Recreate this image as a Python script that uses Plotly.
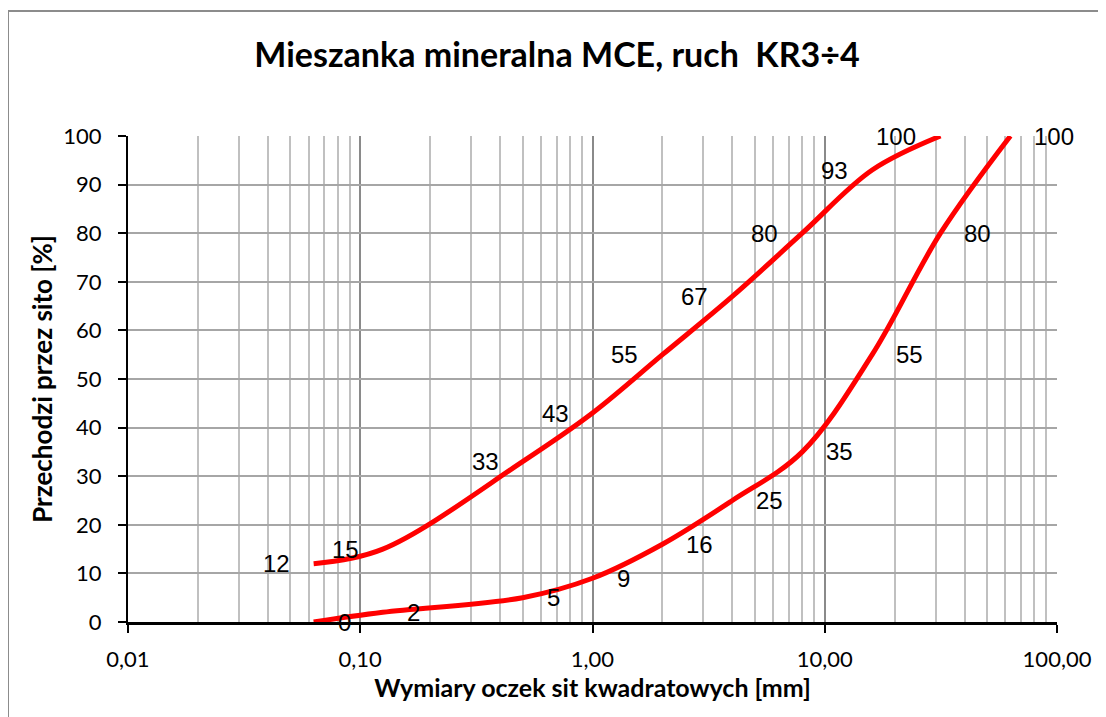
import math
import plotly.graph_objects as go

# ---- data ----
sieves_upper = [0.063, 0.125, 0.5, 1.0, 2.0, 4.0, 8.0, 16.0, 31.5]
upper_values = [12, 15, 33, 43, 55, 67, 80, 93, 100]
sieves_lower = [0.063, 0.125, 0.5, 1.0, 2.0, 4.0, 8.0, 16.0, 31.5, 63.0]
lower_values = [0, 2, 5, 9, 16, 25, 35, 55, 80, 100]

x_tickvals = [0.01, 0.1, 1, 10, 100]
x_ticktext = ["0,01", "0,10", "1,00", "10,00", "100,00"]
y_tickvals = list(range(0, 101, 10))

title_text = "Mieszanka mineralna MCE, ruch  KR3÷4"
x_title = "Wymiary oczek sit kwadratowych [mm]"
y_title = "Przechodzi przez sito [%]"

minor_vals = [m * 10 ** e for e in range(-2, 2) for m in range(2, 10)]

fig = go.Figure()
red = "#ff0000"
fig.add_trace(go.Scatter(x=sieves_upper, y=upper_values, mode="lines",
                         line=dict(color=red, width=5, shape="spline", smoothing=1),
                         showlegend=False, hoverinfo="skip"))
fig.add_trace(go.Scatter(x=sieves_lower, y=lower_values, mode="lines",
                         line=dict(color=red, width=5, shape="spline", smoothing=1),
                         showlegend=False, hoverinfo="skip"))

label_font = dict(family="Liberation Sans, Arial, sans-serif", size=24, color="black")
annotations = []
for xv, yv in zip(sieves_upper, upper_values):
    annotations.append(dict(x=math.log10(xv), y=yv, xref="x", yref="y", text=str(yv), showarrow=False,
                            xanchor="right", yanchor="middle", xshift=-22, font=label_font))
for xv, yv in zip(sieves_lower, lower_values):
    annotations.append(dict(x=math.log10(xv), y=yv, xref="x", yref="y", text=str(yv), showarrow=False,
                            xanchor="left", yanchor="middle", xshift=22, font=label_font))

tick_font = dict(family="Lato, sans-serif", size=22, color="black")

# page body adds an 8 px offset; margins compensate so the plot area matches
L, T = 120, 128
W, H = 929, 486
fig.update_layout(
    width=1106, height=717,
    margin=dict(l=L, r=1106 - L - W, t=T, b=717 - T - H),
    paper_bgcolor="white", plot_bgcolor="white",
    title=dict(text="<b>" + title_text + "</b>", x=549 / 1106, xref="container", xanchor="center",
               y=1 - 47 / 717, yref="container", yanchor="middle",
               font=dict(family="Lato, sans-serif", size=34, color="black")),
    annotations=annotations,
    shapes=[dict(type="rect", xref="paper", yref="paper",
                 x0=(0 - L) / W, x1=(1130 - L) / W,
                 y0=(T + H - 740) / H, y1=(T + H - 3) / H,
                 line=dict(color="#8c8c8c", width=2), layer="below")],
)

fig.update_xaxes(
    type="log", range=[-2, 2],
    tickvals=x_tickvals, ticktext=x_ticktext, tickfont=tick_font,
    ticks="outside", ticklen=8, tickwidth=2, tickcolor="black",
    ticklabelstandoff=8,
    showline=True, linecolor="black", linewidth=3,
    showgrid=True, gridcolor="#8a8a8a", gridwidth=1.5,
    minor=dict(tickvals=minor_vals, showgrid=True, gridcolor="#c0c0c0", gridwidth=1.6, ticks=""),
    zeroline=False,
    title=dict(text=x_title, font=dict(family="Lato, sans-serif", size=25, color="black", weight="bold"),
               standoff=7),
)
fig.update_yaxes(
    range=[0, 100], tickvals=y_tickvals, tickfont=tick_font,
    ticks="outside", ticklen=8, tickwidth=2, tickcolor="black",
    ticklabelstandoff=12,
    showline=True, linecolor="black", linewidth=2,
    showgrid=True, gridcolor="#a6a6a6", gridwidth=1.5,
    zeroline=False,
    title=dict(text=y_title, font=dict(family="Lato, sans-serif", size=26, color="black", weight="bold"),
               standoff=3),
)

fig.write_html("out.html")
